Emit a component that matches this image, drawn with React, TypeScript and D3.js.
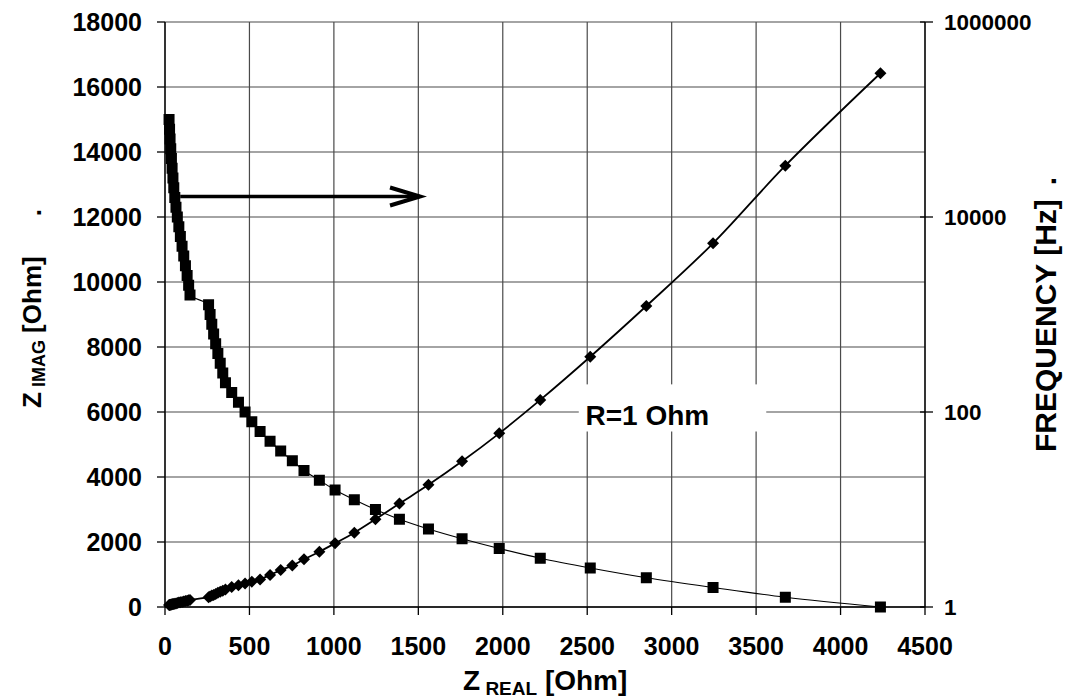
import React from "react";
import * as d3 from "d3";

const zImag = [15000, 14700, 14400, 14100, 13800, 13500, 13200, 12900, 12600, 12300, 12000, 11700, 11400, 11100, 10800, 10500, 10200, 9900, 9600,
  9300, 9000, 8700, 8400, 8100, 7800, 7500, 7200, 6900, 6600, 6300, 6000, 5700, 5400, 5100, 4800, 4500, 4200,
  3900, 3600, 3300, 3000, 2700, 2400, 2100, 1800, 1500, 1200, 900, 600, 300, 0];
const zReal = [24, 27, 30, 34, 38, 42, 47, 52, 58, 65, 73, 82, 91, 101, 111, 121, 131, 140, 148,
  258, 267, 277, 288, 300, 313, 327, 342, 358, 395, 435, 474, 514, 563, 622, 685, 754, 823,
  914, 1007, 1121, 1246, 1388, 1560, 1759, 1979, 2222, 2518, 2850, 3245, 3673, 4236];
const freq = [1.047, 1.05, 1.054, 1.057, 1.062, 1.067, 1.072, 1.076, 1.081, 1.089, 1.099, 1.109, 1.117, 1.127, 1.14, 1.151, 1.161, 1.172, 1.18,
  1.26, 1.28, 1.31, 1.33, 1.36, 1.4, 1.43, 1.47, 1.51, 1.6, 1.67, 1.74, 1.82, 1.92, 2.13, 2.39, 2.66, 3.08,
  3.69, 4.5, 5.78, 7.93, 11.5, 17.9, 31.2, 60.4, 133, 369, 1222, 5370, 33600, 298000];

const xTicks = [0, 500, 1000, 1500, 2000, 2500, 3000, 3500, 4000, 4500];
const yTicks = [0, 2000, 4000, 6000, 8000, 10000, 12000, 14000, 16000, 18000];
const rTicks = [1, 100, 10000, 1000000];

const FONT = "'Liberation Sans', Arial, sans-serif";

export default function App() {
  const x = d3.scaleLinear().domain([0, 4500]).range([165, 925]);
  const y = d3.scaleLinear().domain([0, 18000]).range([607, 22]);
  const yr = d3.scaleLog().domain([1, 1000000]).range([607, 22]);

  const idx = zReal.map((_, i) => i);
  const sqLine = d3.line<number>().x(i => x(zReal[i])).y(i => y(zImag[i])).curve(d3.curveCatmullRom.alpha(0.5));
  const dmLine = d3.line<number>().x(i => x(zReal[i])).y(i => yr(freq[i])).curve(d3.curveCatmullRom.alpha(0.5));

  const sq = 11;
  const dm = 6;

  const arrowY = y(12630);
  const arrowX0 = x(90);
  const arrowX1 = x(1510);
  const boxX0 = x(2450), boxX1 = x(3560), boxY0 = y(6850), boxY1 = y(5400);

  return (
    <svg width={1065} height={698} style={{ position: "absolute", left: 0, top: 0, background: "#fff" }} fontFamily={FONT}>
      <rect x={0} y={0} width={1065} height={698} fill="#fff" />
      {xTicks.map(t => (
        <line key={"gx" + t} x1={x(t)} x2={x(t)} y1={y(18000)} y2={y(0)} stroke="#4a4a4a" strokeWidth={1.2} />
      ))}
      {yTicks.map(t => (
        <line key={"gy" + t} x1={x(0)} x2={x(4500)} y1={y(t)} y2={y(t)} stroke="#4a4a4a" strokeWidth={1.2} />
      ))}
      <rect x={boxX0} y={boxY0} width={boxX1 - boxX0} height={boxY1 - boxY0} fill="#fff" />
      <text x={x(2490)} y={y(5600)} fontSize={28} fontWeight="bold">R=1 Ohm</text>
      <line x1={x(0)} x2={x(4500)} y1={y(0)} y2={y(0)} stroke="#000" strokeWidth={1.5} />
      <line x1={x(0)} x2={x(0)} y1={y(0)} y2={y(18000)} stroke="#000" strokeWidth={1.3} />
      <line x1={x(4500)} x2={x(4500)} y1={y(0)} y2={y(18000)} stroke="#000" strokeWidth={1.3} />
      {xTicks.map(t => (
        <line key={"tx" + t} x1={x(t)} x2={x(t)} y1={y(0)} y2={y(0) + 8} stroke="#000" strokeWidth={1.3} />
      ))}
      {yTicks.map(t => (
        <line key={"ty" + t} x1={x(0) - 8} x2={x(0)} y1={y(t)} y2={y(t)} stroke="#000" strokeWidth={1.3} />
      ))}
      {rTicks.map(t => (
        <line key={"tr" + t} x1={x(4500) - 5} x2={x(4500) + 8} y1={yr(t)} y2={yr(t)} stroke="#000" strokeWidth={1.3} />
      ))}
      {xTicks.map(t => (
        <text key={"lx" + t} x={x(t)} y={655} fontSize={25} fontWeight="bold" textAnchor="middle">{t}</text>
      ))}
      {yTicks.map(t => (
        <text key={"ly" + t} x={142} y={y(t)} dy="0.36em" fontSize={25} fontWeight="bold" textAnchor="end">{t}</text>
      ))}
      {rTicks.map(t => (
        <text key={"lr" + t} x={944} y={yr(t)} dy="0.36em" fontSize={22.5} fontWeight="bold" textAnchor="start">{t}</text>
      ))}
      <text x={463} y={690} fontSize={28} fontWeight="bold">
        Z<tspan fontSize={19} dy={5}> REAL</tspan><tspan dy={-5}> [Ohm]</tspan>
      </text>
      <text transform="translate(41,408) rotate(-90)" fontSize={26} fontWeight="bold">
        Z<tspan fontSize={18} dy={4}> IMAG</tspan><tspan dy={-4}> [Ohm]</tspan><tspan dx={40}>.</tspan>
      </text>
      <text transform="translate(1056,452) rotate(-90)" fontSize={30} fontWeight="bold">
        FREQUENCY [Hz]<tspan dx={14}>.</tspan>
      </text>
      <path d={sqLine(idx) || ""} fill="none" stroke="#000" strokeWidth={1.1} />
      <path d={dmLine(idx) || ""} fill="none" stroke="#000" strokeWidth={1.8} />
      {idx.map(i => (
        <rect key={"s" + i} x={x(zReal[i]) - sq / 2} y={y(zImag[i]) - sq / 2} width={sq} height={sq} fill="#000" />
      ))}
      {idx.map(i => {
        const cx = x(zReal[i]), cy = yr(freq[i]);
        return <path key={"d" + i} d={`M${cx},${cy - dm}L${cx + dm},${cy}L${cx},${cy + dm}L${cx - dm},${cy}Z`} fill="#000" />;
      })}
      <line x1={arrowX0} x2={arrowX1} y1={arrowY} y2={arrowY} stroke="#000" strokeWidth={3.5} />
      <polyline points={`${arrowX1 - 30},${arrowY - 9} ${arrowX1},${arrowY} ${arrowX1 - 30},${arrowY + 9}`} fill="none" stroke="#000" strokeWidth={4} strokeLinejoin="miter" />
    </svg>
  );
}
